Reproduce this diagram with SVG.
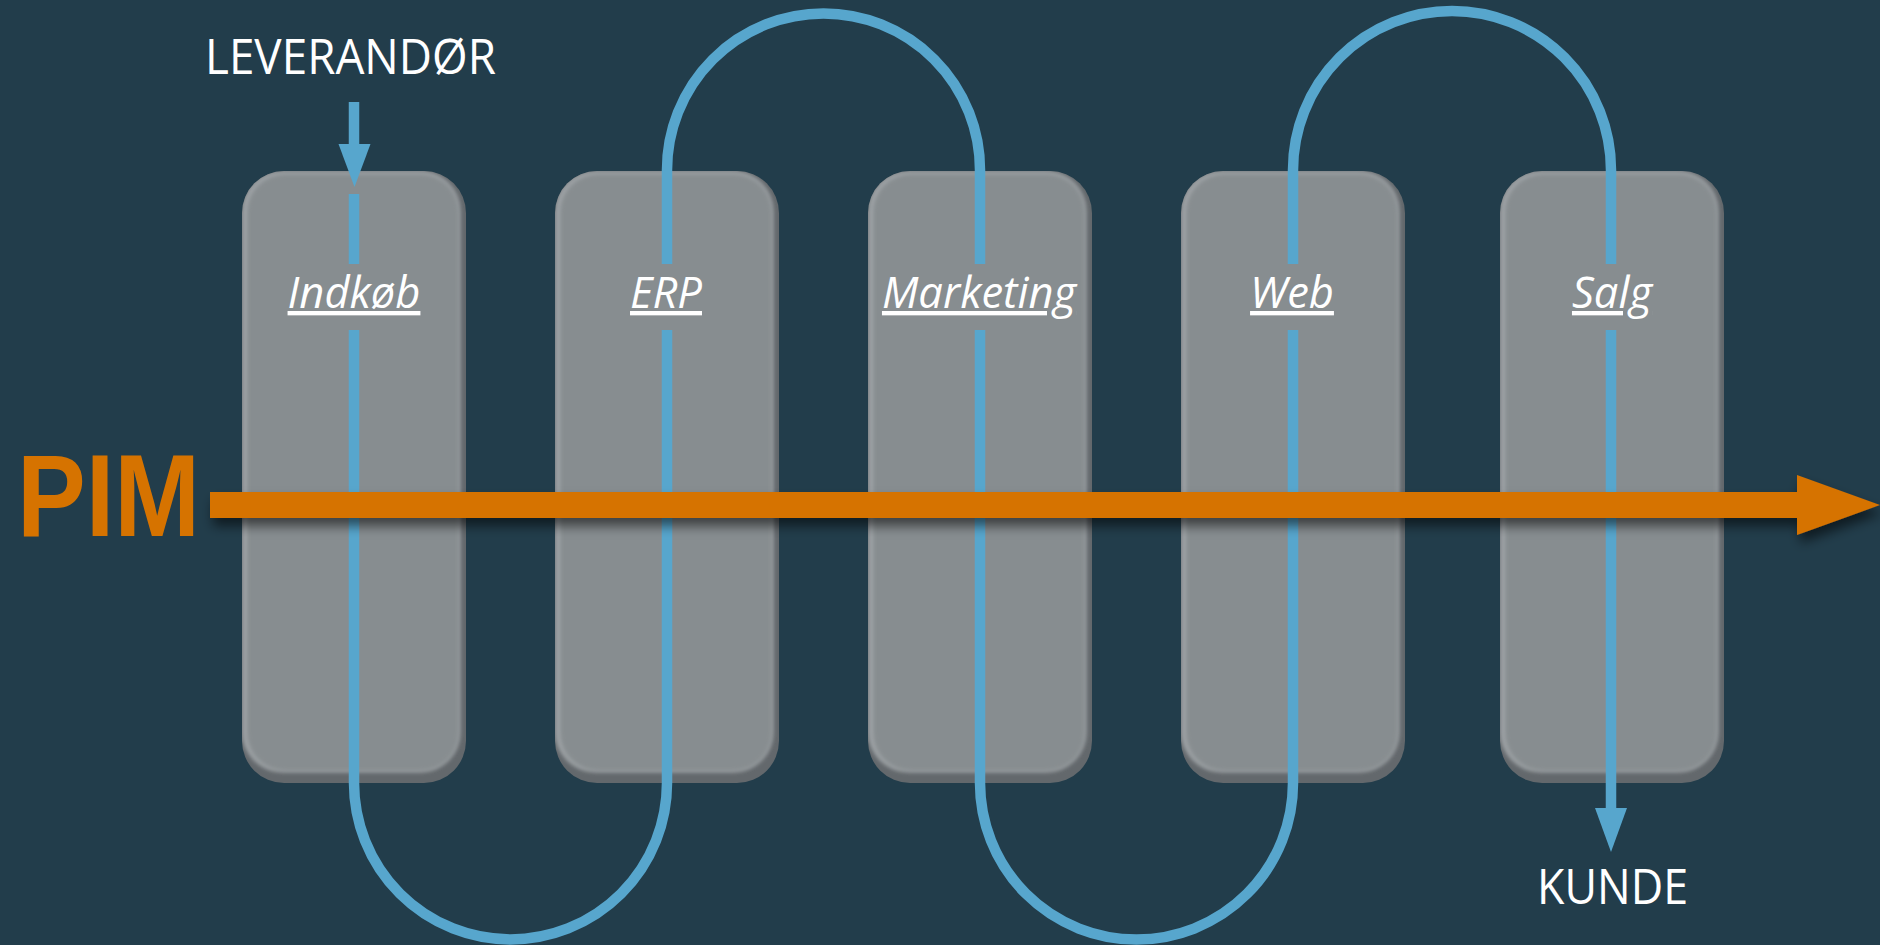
<svg xmlns="http://www.w3.org/2000/svg" xmlns:xlink="http://www.w3.org/1999/xlink" width="1880" height="945" viewBox="0 0 1880 945">
<style>
.lbl{font-family:"Open Sans","Noto Sans","DejaVu Sans",sans-serif;font-style:italic;font-size:43.5px;fill:#ffffff;text-anchor:middle;text-decoration:underline;}
.cap{font-family:"Open Sans","Noto Sans","DejaVu Sans",sans-serif;font-size:49px;fill:#ffffff;text-anchor:middle;}
.flow{fill:none;stroke:#57A6CD;stroke-width:10.5;stroke-linecap:butt;}
.head{fill:#57A6CD;}
</style>
<defs>
<clipPath id="boxClip"><rect x="0" y="0" width="224" height="612" rx="42" ry="42"/></clipPath>
<filter id="soft" x="-5%" y="-5%" width="110%" height="110%"><feGaussianBlur stdDeviation="2"/></filter>
<filter id="shadow" x="-5%" y="-50%" width="110%" height="250%"><feDropShadow dx="3" dy="8" stdDeviation="6" flood-color="#000000" flood-opacity="0.55"/></filter>
<g id="box">
<g clip-path="url(#boxClip)">
<rect x="0" y="0" width="224" height="612" fill="#63686c"/>
<rect x="0" y="0" width="218" height="601" rx="40" ry="40" fill="#a0a5a8" filter="url(#soft)"/>
<rect x="5" y="3" width="212" height="597" rx="38" ry="38" fill="#878d90" filter="url(#soft)"/>
</g>
</g>
</defs>
<rect x="0" y="0" width="1880" height="945" fill="#223D4B"/>
<g id="node-indkob"><use xlink:href="#box" href="#box" transform="translate(242,171)"/><text class="lbl" x="354" y="308">Indkøb</text></g>
<g id="node-erp"><use xlink:href="#box" href="#box" transform="translate(555,171)"/><text class="lbl" x="666" y="308">ERP</text></g>
<g id="node-marketing"><use xlink:href="#box" href="#box" transform="translate(868,171)"/><text class="lbl" x="979" y="308">Marketing</text></g>
<g id="node-web"><use xlink:href="#box" href="#box" transform="translate(1181,171)"/><text class="lbl" x="1292" y="308">Web</text></g>
<g id="node-salg"><use xlink:href="#box" href="#box" transform="translate(1500,171)"/><text class="lbl" x="1612" y="308">Salg</text></g>
<g id="connectors">
<path class="flow" d="M354,102 V146"/>
<polygon class="head" points="338.5,144 370.5,144 354.5,187"/>
<path class="flow" d="M354,194 V264"/>
<path class="flow" d="M354,330 V783 A156.5,156.5 0 0 0 667,783 V330"/>
<path class="flow" d="M667,264 V170 A156.5,156.5 0 0 1 980,170 V264"/>
<path class="flow" d="M980,330 V783 A156.5,156.5 0 0 0 1293,783 V330"/>
<path class="flow" d="M1293,264 V170 A159,159 0 0 1 1611,170 V264"/>
<path class="flow" d="M1611,330 V810"/>
<polygon class="head" points="1595,808 1627,808 1611,852"/>
<path id="pim-arrow" d="M210,492 H1797 V475 L1880,505 L1797,535 V518 H210 Z" fill="#D67300" filter="url(#shadow)"/>
</g>
<text id="pim" x="17" y="536" font-family="'Liberation Sans',Arial,sans-serif" font-weight="bold" font-size="116" fill="#D67300" textLength="183" lengthAdjust="spacingAndGlyphs">PIM</text>
<text id="leverandor" class="cap" x="350.5" y="74" textLength="291" lengthAdjust="spacingAndGlyphs">LEVERANDØR</text>
<text id="kunde" class="cap" x="1612.5" y="904" textLength="151" lengthAdjust="spacingAndGlyphs">KUNDE</text>
</svg>
